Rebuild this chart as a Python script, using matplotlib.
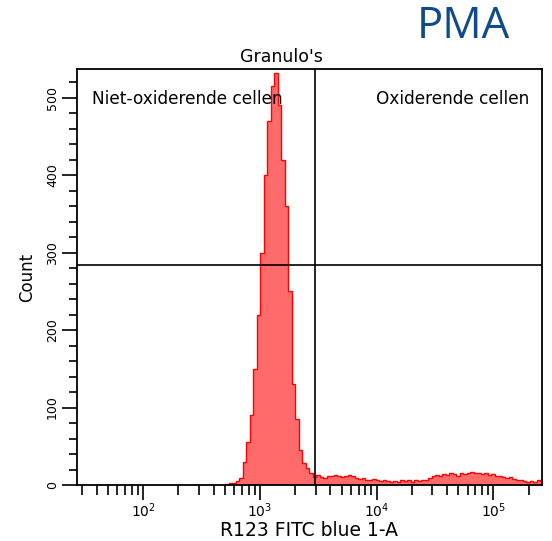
import numpy as np
import matplotlib
matplotlib.use("Agg")
import matplotlib.pyplot as plt
from matplotlib.ticker import LogLocator, MultipleLocator, NullFormatter

# ---- data ----
log_start = 2.70
log_step = 0.03
peak_counts = [1, 2, 3, 5, 9, 30, 55, 90, 150, 220, 300, 400, 470, 515, 532,
               490, 420, 360, 250, 130, 85, 45, 28, 22, 15, 10]
tail_counts = [13, 10, 9, 11,
               12, 13, 11, 10, 12, 13, 11, 9,
               8, 9, 7, 6, 8, 6, 5, 7, 5, 4,
               5, 4, 6, 5, 6, 4, 7, 5, 6, 6,
               9, 12, 13, 12, 14, 13, 15, 14, 12,
               15, 14, 16, 17, 15, 16, 14, 15, 13, 14,
               12, 11, 10, 9, 10, 8, 7, 6, 5, 4, 5, 4, 6, 5]
counts = np.array(peak_counts + tail_counts, dtype=float)
edges = 10 ** (log_start + log_step * np.arange(len(counts) + 1))

gate_x = 2950
gate_y = 284
xlim = (27, 2.61e5)
ylim = (0, 537)
title = "Granulo's"
left_label = "Niet-oxiderende cellen"
right_label = "Oxiderende cellen"
xlabel = "R123 FITC blue 1-A"
ylabel = "Count"
corner = "PMA"

W, H = 552, 541
fig = plt.figure(figsize=(W / 100, H / 100), dpi=100)
ax = fig.add_axes([77 / W, 1 - 485 / H, (542 - 77) / W, (485 - 69) / H])

ax.stairs(counts, edges, fill=True, color="#FF6B6B", lw=0)
ax.stairs(counts, edges, color="#FF0000", lw=1.0)

ax.set_xscale("log")
ax.set_xlim(*xlim)
ax.set_ylim(*ylim)

ax.axvline(gate_x, color="black", lw=1.2)
ax.axhline(gate_y, color="black", lw=1.2)

for s in ax.spines.values():
    s.set_linewidth(1.3)

ax.xaxis.set_major_locator(LogLocator(base=10, numticks=10))
ax.xaxis.set_minor_locator(LogLocator(base=10, subs=np.arange(2, 10), numticks=20))
ax.xaxis.set_minor_formatter(NullFormatter())
ax.yaxis.set_major_locator(MultipleLocator(100))
ax.yaxis.set_minor_locator(MultipleLocator(20))

ax.tick_params(axis="x", which="major", direction="out", length=11, width=1.2,
               labelsize=10, pad=1)
ax.tick_params(axis="x", which="minor", direction="out", length=7, width=1.2)
ax.tick_params(axis="y", which="major", direction="out", length=11, width=1.2,
               labelsize=9, pad=2)
ax.tick_params(axis="y", which="minor", direction="out", length=6, width=1.2)
for lab in ax.get_yticklabels():
    lab.set_rotation(90)
    lab.set_va("center")

ax.set_xlabel(xlabel, fontsize=13.5, labelpad=0.5)
ax.set_ylabel(ylabel, fontsize=12, labelpad=7)

fig.text(281 / W, 1 - 57 / H, title, fontsize=12.5, ha="center", va="center")
fig.text(92 / W, 1 - 99 / H, left_label, fontsize=12.2, ha="left", va="center")
fig.text(376 / W, 1 - 99 / H, right_label, fontsize=12.2, ha="left", va="center")
fig.text(463 / W, 1 - 27 / H, corner, fontsize=31.5, ha="center", va="center",
         color="#0E4A8E", family="Open Sans")

fig.savefig("out.png", dpi=100)
